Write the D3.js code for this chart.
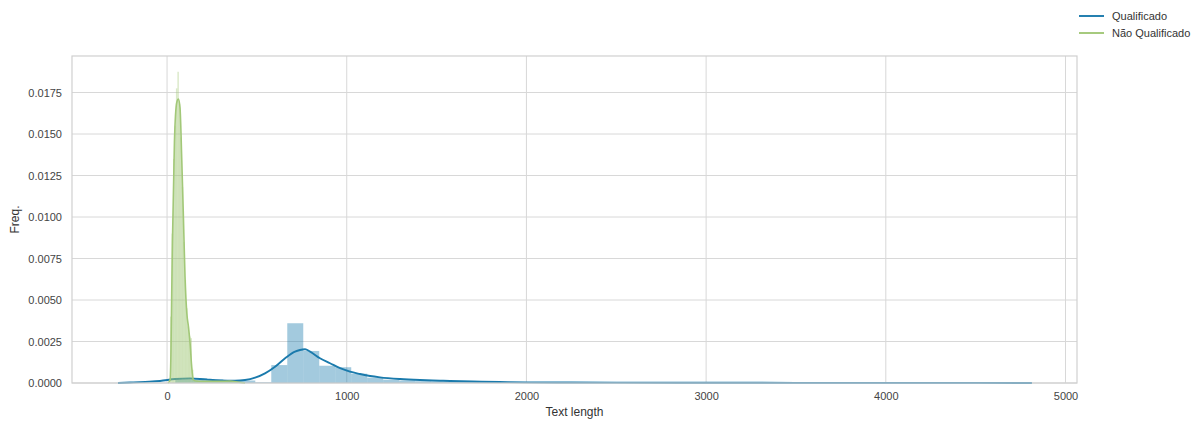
<!DOCTYPE html>
<html><head><meta charset="utf-8">
<script src="https://cdn.jsdelivr.net/npm/d3@7"></script>
<style>
body{margin:0;background:#fff;}
svg text{font-family:"Liberation Sans",Arial,sans-serif;}
</style></head>
<body><svg id="c" width="1203" height="421"></svg>
<script>
// ---- data ----
const seriesNames = ["Qualificado", "Não Qualificado"];
const xTicks = [0, 1000, 2000, 3000, 4000, 5000];
const yTicks = [0, 0.0025, 0.005, 0.0075, 0.01, 0.0125, 0.015, 0.0175];

// Qualificado histogram: 50 bins from 46, width 89
const qualBinStart = 46, qualBinWidth = 89;
const qualHist = [0.00025, 0.0003, 0.00022, 0.00016, 0.00015, 0.00004, 0.00108, 0.0036, 0.00193, 0.00104,
  0.00095, 0.00056, 0.00032, 0.0002, 0.00015, 0.00011, 0.00009, 0.00007, 0.00006, 0.00005,
  0.00004, 0.00003, 0.00003, 0.00002, 0.00002, 0.00002, 0.00001, 0.00002, 0.00001, 0.00001,
  0.00001, 0.00001, 0.00001, 0.00001, 0.00001, 0.00001, 0.00001, 0.00001, 0.00001, 0.00001,
  0.00001, 0.00001, 0.00001, 0.00001, 0.00001, 0.00001, 0.00001, 0.00001, 0.00001, 0.00001];
// Qualificado KDE
const qualKdeX = [-273, -206, -122, -39, 45, 128, 211, 295, 378, 434, 490, 545, 601, 657, 712, 740, 768, 796, 851, 907, 963, 1018, 1074, 1130, 1185, 1297, 1408, 1519, 1575, 1700, 1850, 2000, 2250, 2500, 3000, 3500, 4000, 4500, 4813];
const qualKdeY = [0, 0.00003, 0.00007, 0.00012, 0.00024, 0.00028, 0.00022, 0.00016, 0.00014, 0.00018, 0.00032, 0.00058, 0.00098, 0.00149, 0.00189, 0.00199, 0.00203, 0.00189, 0.00149, 0.00119, 0.00089, 0.00068, 0.00054, 0.00042, 0.00034, 0.00024, 0.00018, 0.00014, 0.00012, 0.00009, 0.00006, 0.00004, 0.00003, 0.00002, 0.000015, 0.00001, 0.00001, 0.000005, 0];

// Não Qualificado histogram: 50 bins from 17, width 8.1
const naoBinStart = 17, naoBinWidth = 8.1;
const naoHist = [0.004, 0.009, 0.0135, 0.0155, 0.01775, 0.01875, 0.0168, 0.0148, 0.0118, 0.0085,
  0.0062, 0.0045, 0.0034, 0.0028, 0.0027, 0.0008, 0.0002, 0.0001, 0.00015, 0.0001,
  0.0001, 0.00012, 0.0001, 0.00008, 0.0001, 0.00012, 0.0001, 0.00008, 0.0001, 0.00012,
  0.0001, 0.0001, 0.00008, 0.0001, 0.00012, 0.0001, 0.0001, 0.00012, 0.00014, 0.0001,
  0.00008, 0.0001, 0.00006, 0.00005, 0.00004, 0.00005, 0.00003, 0.00003, 0.00002, 0.00002];
// Não Qualificado KDE
const naoKdeX = [6, 17, 22, 26, 30, 41, 54, 63, 72, 82, 91, 100, 110, 119, 128, 137, 146, 160, 200, 250, 300, 350, 400, 434];
const naoKdeY = [0, 0.0002, 0.002, 0.0054, 0.0085, 0.0145, 0.0169, 0.0171, 0.0166, 0.0134, 0.0100, 0.0064, 0.0042, 0.0034, 0.0024, 0.0010, 0.0002, 0.00012, 0.0001, 0.0001, 0.0001, 0.00012, 0.00005, 0];

// ---- styles ----
const blue = "#1a7aac", green = "#a2c878";
const svg = d3.select("#c");
const L = 72, R = 1077, T = 56, B = 383;
const x = d3.scaleLinear().domain([-529, 5064]).range([L, R]);
const y = d3.scaleLinear().domain([0, 0.0197]).range([B, T]);

// grid
const g = svg.append("g");
g.selectAll(".gx").data(xTicks).join("line")
  .attr("x1", d => x(d)).attr("x2", d => x(d)).attr("y1", T).attr("y2", B)
  .attr("stroke", "#d8d8d8").attr("stroke-width", 1);
g.selectAll(".gy").data(yTicks).join("line")
  .attr("x1", L).attr("x2", R).attr("y1", d => y(d)).attr("y2", d => y(d))
  .attr("stroke", "#d8d8d8").attr("stroke-width", 1);

// axes (labels only, no tick marks)
const xAxis = svg.append("g").attr("transform", `translate(0,${B})`)
  .call(d3.axisBottom(x).tickValues(xTicks).tickSize(0).tickPadding(9).tickFormat(d3.format("d")));
const yAxis = svg.append("g").attr("transform", `translate(${L},0)`)
  .call(d3.axisLeft(y).tickValues(yTicks).tickSize(0).tickPadding(10).tickFormat(d3.format(".4f")));
[xAxis, yAxis].forEach(a => {
  a.select(".domain").remove();
  a.selectAll("text").attr("fill", "#444").style("font-size", "11px")
    .style("font-family", '"Liberation Sans",Arial,sans-serif');
});

// histograms
function drawHist(heights, start, width, color) {
  svg.append("g").selectAll("rect").data(heights).join("rect")
    .attr("x", (d, i) => x(start + i * width))
    .attr("width", (d, i) => x(start + (i + 1) * width) - x(start + i * width))
    .attr("y", d => y(d)).attr("height", d => B - y(d))
    .attr("fill", color).attr("fill-opacity", 0.4);
}
const line = d3.line().x(d => x(d[0])).y(d => y(d[1])).curve(d3.curveMonotoneX);
const area = d3.area().x(d => x(d[0])).y0(B).y1(d => y(d[1])).curve(d3.curveMonotoneX);

drawHist(qualHist, qualBinStart, qualBinWidth, blue);
svg.append("path").datum(d3.zip(qualKdeX, qualKdeY)).attr("d", line)
  .attr("fill", "none").attr("stroke", blue).attr("stroke-width", 1.9);

drawHist(naoHist, naoBinStart, naoBinWidth, green);
svg.append("path").datum(d3.zip(naoKdeX, naoKdeY)).attr("d", area)
  .attr("fill", green).attr("fill-opacity", 0.2);
svg.append("path").datum(d3.zip(naoKdeX, naoKdeY)).attr("d", line)
  .attr("fill", "none").attr("stroke", green).attr("stroke-width", 1.6);

// frame
svg.append("rect").attr("x", L).attr("y", T).attr("width", R - L).attr("height", B - T)
  .attr("fill", "none").attr("stroke", "#d0d0d0").attr("stroke-width", 1.2);

// axis labels
svg.append("text").attr("x", (L + R) / 2).attr("y", 416).attr("text-anchor", "middle")
  .attr("fill", "#333").style("font-size", "12px").text("Text length");
svg.append("text").attr("transform", `translate(19,${(T + B) / 2}) rotate(-90)`).attr("text-anchor", "middle")
  .attr("fill", "#333").style("font-size", "12px").text("Freq.");

// legend
const colors = [blue, green];
const lg = svg.append("g").selectAll("g").data(seriesNames).join("g")
  .attr("transform", (d, i) => `translate(1079,${16 + i * 17})`);
lg.append("line").attr("x1", 0).attr("x2", 25).attr("stroke", (d, i) => colors[i]).attr("stroke-width", 1.9);
lg.append("text").attr("x", 33).attr("y", 4).attr("fill", "#333").style("font-size", "11px").text(d => d);
</script></body></html>
